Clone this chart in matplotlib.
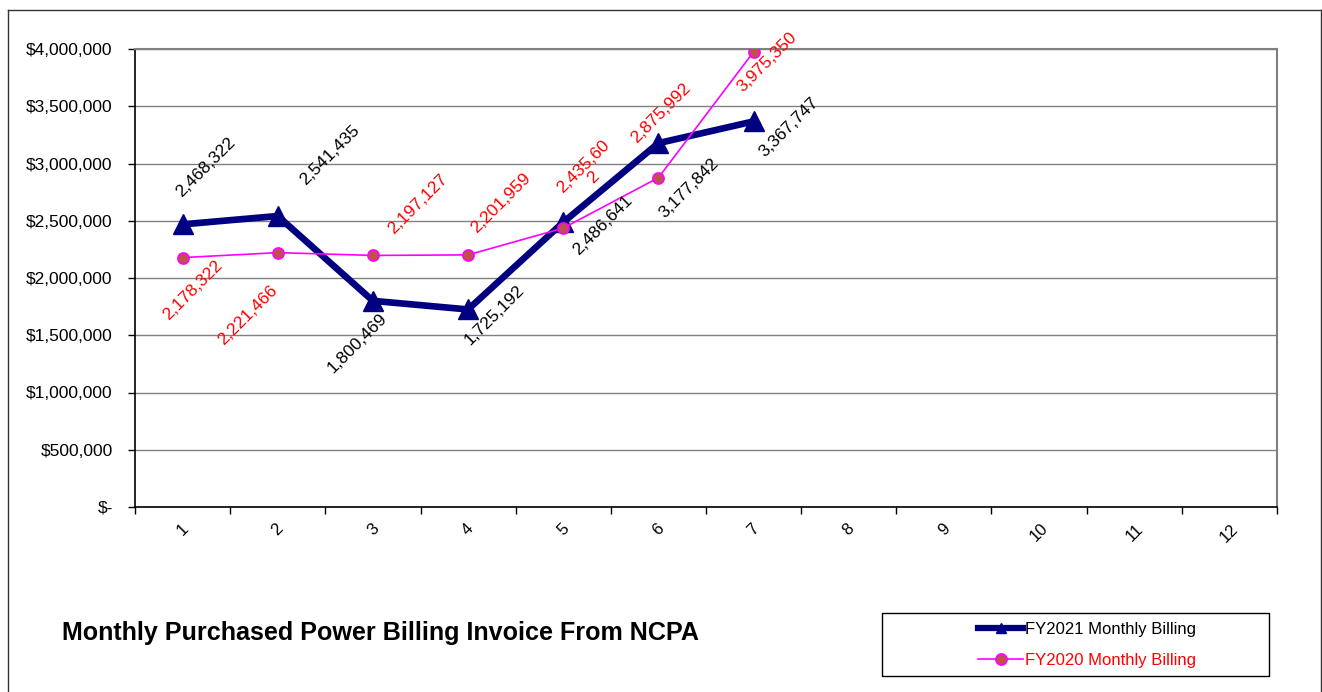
import matplotlib
matplotlib.use("Agg")
import matplotlib.pyplot as plt
from matplotlib.lines import Line2D
from matplotlib.patches import Rectangle
from matplotlib.ticker import FixedLocator, NullFormatter

plt.rcParams['font.family'] = ['Liberation Sans', 'DejaVu Sans']

# ---- data ----
months = [1, 2, 3, 4, 5, 6, 7, 8, 9, 10, 11, 12]
fy2021 = [2468322, 2541435, 1800469, 1725192, 2486641, 3177842, 3367747]
fy2020 = [2178322, 2221466, 2197127, 2201959, 2435602, 2875992, 3975350]
y_ticks = [0, 500000, 1000000, 1500000, 2000000, 2500000, 3000000, 3500000, 4000000]
title = "Monthly Purchased Power Billing Invoice From NCPA"
series_names = ["FY2021 Monthly Billing", "FY2020 Monthly Billing"]

# ---- label placement (pixel offsets from each point; +x right, +y up) ----
fy2021_offsets = [(23, 57), (52, 61), (-16, -42), (26, -6), (40, -3), (31, -45), (35, -6)]
fy2020_offsets = [(10, -33), (-30, -63), (45, 51), (33, 52), (25, 56), (2, 65), (13, -10)]

W, H = 1322, 692
fig = plt.figure(figsize=(W / 100, H / 100), dpi=100)

# plot area in pixels
left, top, right, bottom = 135, 49, 1277, 507
ax = fig.add_axes([left / W, 1 - bottom / H, (right - left) / W, (bottom - top) / H])

NAVY = "#000080"
MAGENTA = "#FF00FF"
MARKER_FACE = "#C0504D"

x21 = months[:len(fy2021)]
x20 = months[:len(fy2020)]

ax.plot(x21, fy2021, color=NAVY, lw=4.8, marker='^', ms=14, mfc=NAVY, mec=NAVY,
        zorder=3, label=series_names[0], solid_joinstyle='miter')
ax.plot(x20, fy2020, color=MAGENTA, lw=1.2, marker='o', ms=8, mfc=MARKER_FACE,
        mec=MAGENTA, mew=1.2, zorder=4, label=series_names[1])


def fmt(v):
    return f"{v:,}"


for x, v, (dx, dy) in zip(x21, fy2021, fy2021_offsets):
    ax.annotate(fmt(v), (x, v), xytext=(dx, dy), textcoords='offset pixels',
                rotation=45, ha='center', va='center', fontsize=12.5, color='black',
                zorder=5, annotation_clip=False)

for x, v, (dx, dy) in zip(x20, fy2020, fy2020_offsets):
    s = fmt(v)
    if v == 2435602:
        s = s[:-1] + "\n" + s[-1]
    ax.annotate(s, (x, v), xytext=(dx, dy), textcoords='offset pixels',
                rotation=45, ha='center', va='center', fontsize=12.5, color='red',
                multialignment='center', linespacing=1.0,
                zorder=5, annotation_clip=False)

# axes, ticks, grid
ax.set_xlim(0.5, 12.5)
ax.set_ylim(0, 4000000)
ax.set_yticks(y_ticks)
ax.set_yticklabels(["$-" if t == 0 else f"${t:,}" for t in y_ticks], fontsize=12.5)
ax.tick_params(axis='y', direction='out', length=5, width=1, pad=11, color='black')

ax.set_xticks(months)
ax.set_xticklabels([str(m) for m in months], rotation=45, fontsize=12,
                   ha='center', va='top')
ax.tick_params(axis='x', which='major', length=0, pad=10)
ax.xaxis.set_minor_locator(FixedLocator([m + 0.5 for m in range(0, 13)]))
ax.xaxis.set_minor_formatter(NullFormatter())
ax.tick_params(axis='x', which='minor', direction='out', length=5, width=1, color='black')

ax.grid(axis='y', color='#808080', lw=1.0)
ax.set_axisbelow(True)
for side in ('top', 'right'):
    ax.spines[side].set_color('#808080')
    ax.spines[side].set_linewidth(1.5)
for side in ('left', 'bottom'):
    ax.spines[side].set_color('black')
    ax.spines[side].set_linewidth(1.2)

# outer chart border
border_kw = dict(color='#333333', lw=1.0, transform=fig.transFigure)
fig.add_artist(Line2D([7.5 / W, 7.5 / W], [0, 1 - 10 / H], **border_kw))
fig.add_artist(Line2D([7.5 / W, 1320.5 / W], [1 - 10 / H, 1 - 10 / H], **border_kw))
fig.add_artist(Line2D([1320.5 / W, 1320.5 / W], [0, 1 - 10 / H], **border_kw))

# title
fig.text(62 / W, 1 - 633 / H, title, fontsize=18.1, fontweight='bold',
         ha='left', va='center')

# legend box
fig.add_artist(Rectangle((882 / W, 1 - 676 / H), (1269 - 882) / W, (676 - 613) / H,
                         transform=fig.transFigure, fill=False, ec='black', lw=1.0))
handles = [
    Line2D([], [], color=NAVY, lw=4.5, marker='^', ms=7, mfc=NAVY, mec=NAVY),
    Line2D([], [], color=MAGENTA, lw=1.2, marker='o', ms=8, mfc=MARKER_FACE,
           mec=MAGENTA, mew=1.2),
]
leg = fig.legend(handles, series_names, loc='center left',
                 bbox_to_anchor=(978 / W, 1 - 645 / H), frameon=False,
                 fontsize=12, handlelength=2.7, handletextpad=0.1,
                 labelspacing=0.95, borderpad=0, borderaxespad=0)
leg.get_texts()[0].set_color('black')
leg.get_texts()[1].set_color('red')

fig.savefig("out.png", dpi=100)
